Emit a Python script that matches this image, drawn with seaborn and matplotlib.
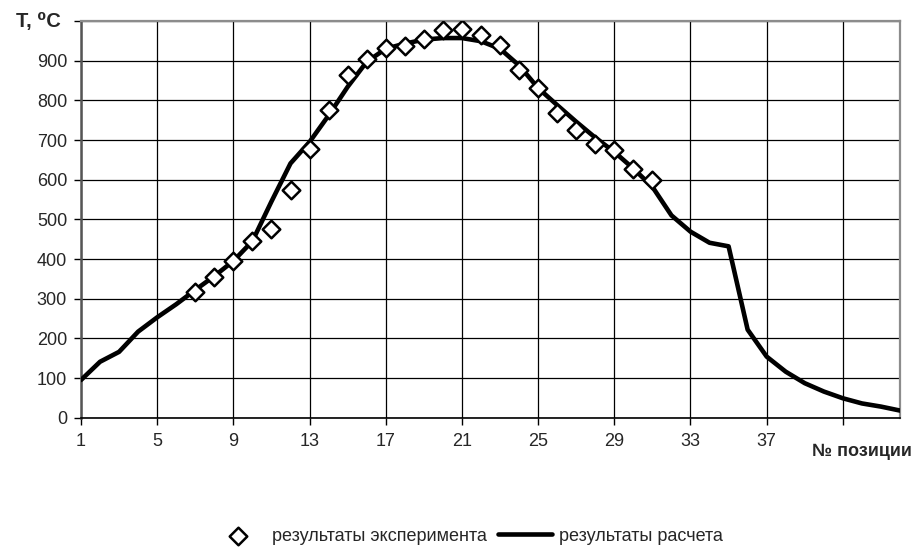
import numpy as np
import pandas as pd
import seaborn as sns
import matplotlib.pyplot as plt

# ── Data ────────────────────────────────────────────────────────────────
# calculated curve, positions 1..44
calc_pos = list(range(1, 45))
calc_temp = [95, 141, 166, 217, 253, 286, 322, 357, 395, 445,
             545, 641, 695, 762, 834, 897, 930, 943, 953, 957,
             957, 949, 930, 888, 831, 788, 746, 706, 670, 628,
             582, 510, 469, 441, 432, 222, 154, 116, 87, 66,
             49, 36, 28, 18]

# experimental points, positions 7..31
exp_pos = list(range(7, 32))
exp_temp = [318, 355, 396, 446, 476, 574, 678, 776, 865, 905,
            933, 938, 955, 978, 980, 965, 940, 877, 831, 769,
            725, 691, 674, 628, 600]

xtick_pos = [1, 5, 9, 13, 17, 21, 25, 29, 33, 37, 41]
xtick_lab = ["1", "5", "9", "13", "17", "21", "25", "29", "33", "37", ""]
ytick_pos = [0, 100, 200, 300, 400, 500, 600, 700, 800, 900]

calc_df = pd.DataFrame({"pos": calc_pos, "temp": calc_temp})
exp_df = pd.DataFrame({"pos": exp_pos, "temp": exp_temp})

# ── Style ───────────────────────────────────────────────────────────────
sns.set_style("white")
plt.rcParams["font.family"] = ["Liberation Sans", "DejaVu Sans"]
FS = 13

fig = plt.figure(figsize=(9.14, 5.51), dpi=100)
ax = fig.add_axes([0.0886, 0.2419, 0.8961, 0.7200])

sns.lineplot(data=calc_df, x="pos", y="temp", ax=ax, color="black",
             linewidth=3.3, label="результаты расчета", zorder=3,
             solid_joinstyle="round", solid_capstyle="round")
sns.scatterplot(data=exp_df, x="pos", y="temp", ax=ax, marker="D",
                s=80, facecolor="white", edgecolor="black", linewidth=1.8,
                label="результаты эксперимента", zorder=4)

ax.set_xlim(1, 44)
ax.set_ylim(0, 1000)
ax.set_xticks(xtick_pos)
ax.set_xticklabels(xtick_lab, fontsize=FS)
ax.set_yticks(ytick_pos + [1000])
ax.set_yticklabels([str(v) for v in ytick_pos] + [""], fontsize=FS)
ax.tick_params(axis="x", direction="out", length=5, width=1,
               color="black", pad=6, bottom=True)
ax.tick_params(axis="y", direction="out", length=5, width=1,
               color="black", pad=5, left=True)
ax.set_xlabel("")
ax.set_ylabel("")

ax.grid(True, color="black", linewidth=0.9)
for side in ["top", "right"]:
    ax.spines[side].set_color("#8c8c8c")
    ax.spines[side].set_linewidth(1.6)
ax.spines["left"].set_color("#555555")
ax.spines["left"].set_linewidth(1.8)
ax.spines["bottom"].set_color("black")
ax.spines["bottom"].set_linewidth(1.2)

fig.text(0.066, 1 - 21 / 551, "T, ⁰C", ha="right", va="center",
         fontsize=FS + 1.5, fontweight="bold")
fig.text(0.998, 1 - 451 / 551, "№ позиции", ha="right", va="center",
         fontsize=FS, fontweight="bold")

handles, labels = ax.get_legend_handles_labels()
ax.get_legend().remove()
fig.legend(handles[::-1], labels[::-1], loc="center", ncol=2,
           bbox_to_anchor=(0.511, 0.027), frameon=False, fontsize=FS,
           handlelength=3.0, columnspacing=0.6, handletextpad=0.4)

fig.savefig("out.png", dpi=100)
